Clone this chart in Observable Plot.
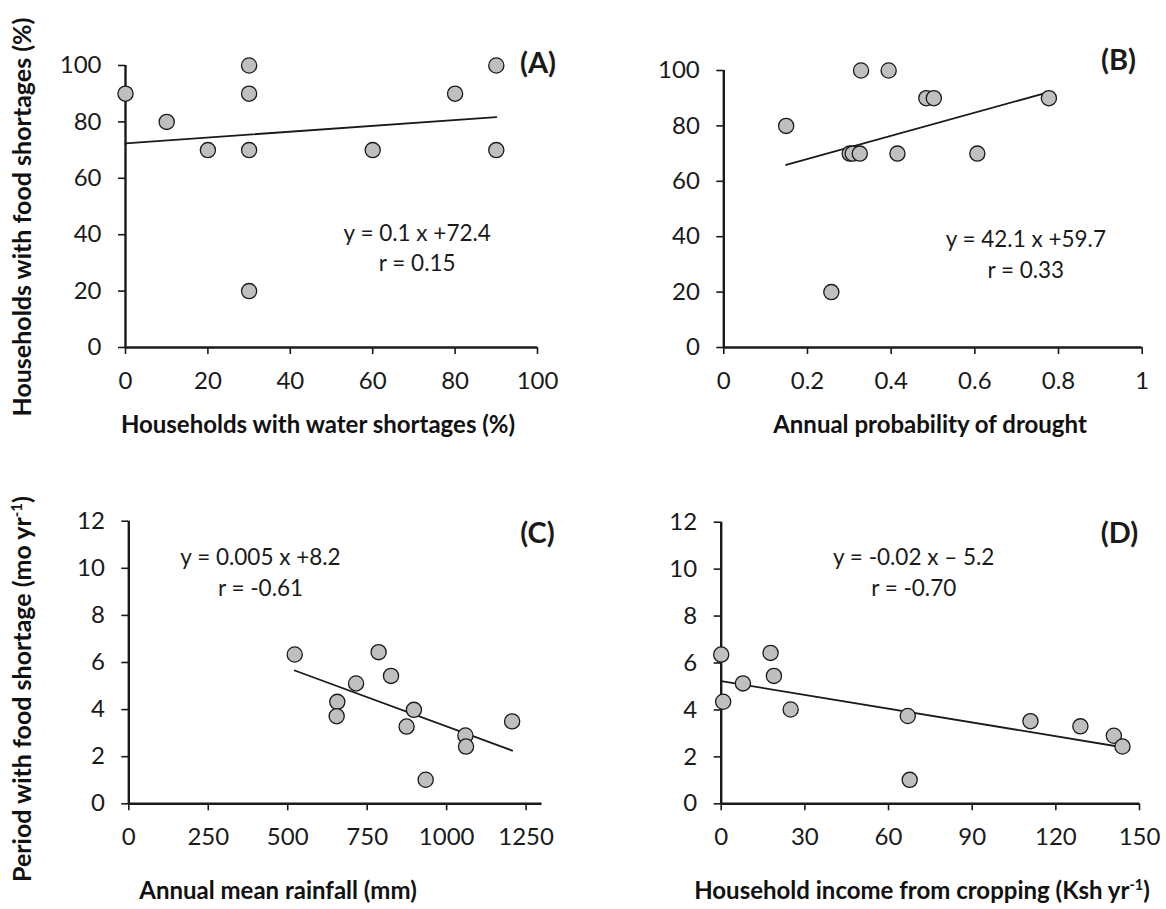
<!DOCTYPE html>
<html><head><meta charset="utf-8">
<script src="https://cdn.jsdelivr.net/npm/d3@7"></script>
<script src="https://cdn.jsdelivr.net/npm/@observablehq/plot@0.6"></script>
<style>
body{margin:0;background:#fff;font-family:Lato,sans-serif;}
#root{position:relative;width:1166px;height:909px;overflow:hidden;background:#fff;}
.p{position:absolute;}
.xt,.yt{position:absolute;font-weight:700;white-space:nowrap;color:#111;line-height:1;}
.xt{transform:translate(-50%,-50%);font-size:24px;}
.yt{transform:translate(-50%,-50%) rotate(-90deg);font-size:25px;}
sup{font-size:0.6em;line-height:0;vertical-align:0.6em;}
</style></head>
<body><div id="root"></div>
<script>
// ---- data ----
const waterShortage = [0, 10, 20, 30, 30, 30, 30, 60, 80, 90, 90];
const foodShortageA = [90, 80, 70, 100, 90, 70, 20, 70, 90, 100, 70];
const trendAx = [0, 90];
const trendAy = [72.4, 81.7];

const droughtProb = [0.149, 0.328, 0.394, 0.484, 0.502, 0.777, 0.301, 0.308, 0.325, 0.415, 0.606, 0.257];
const foodShortageB = [80, 100, 100, 90, 90, 90, 70, 70, 70, 70, 70, 20];
const trendBx = [0.149, 0.777];
const trendBy = [65.9, 92.2];

const rainfall = [522, 656, 654, 715, 786, 825, 897, 874, 1059, 1061, 934, 1206];
const periodC = [6.34, 4.33, 3.72, 5.11, 6.44, 5.43, 3.99, 3.28, 2.90, 2.43, 1.02, 3.50];
const trendCx = [522, 1206];
const trendCy = [5.66, 2.26];

const cropIncome = [0, 0.7, 7.8, 17.7, 18.9, 24.9, 66.9, 67.6, 110.9, 128.8, 140.8, 143.9];
const periodD = [6.36, 4.35, 5.13, 6.43, 5.45, 4.02, 3.74, 1.02, 3.52, 3.30, 2.90, 2.44];
const trendDx = [0, 143.9];
const trendDy = [5.23, 2.41];

const ticksPct = [0, 20, 40, 60, 80, 100];
const ticksProb = [0, 0.2, 0.4, 0.6, 0.8, 1];
const ticksRain = [0, 250, 500, 750, 1000, 1250];
const ticksIncome = [0, 30, 60, 90, 120, 150];
const ticksMonths = [0, 2, 4, 6, 8, 10, 12];

const eqA = ["y = 0.1 x +72.4", "r = 0.15"];
const eqB = ["y = 42.1 x +59.7", "r = 0.33"];
const eqC = ["y = 0.005 x +8.2", "r = -0.61"];
const eqD = ["y = -0.02 x \u2013 5.2", "r = -0.70"];
const letters = ["(A)", "(B)", "(C)", "(D)"];

const yTitleTop = "Households with food shortages (%)";
const yTitleBottom = "Period with food shortage (mo yr<sup>-1</sup>)";
const xTitles = ["Households with water shortages (%)", "Annual probability of drought",
  "Annual mean rainfall (mm)", "Household income from cropping (Ksh yr<sup>-1</sup>)"];

// ---- drawing ----
const root = document.getElementById("root");
const INK = "#1a1a1a";

function panel(o) {
  const [x0, x1, yT, yB] = o.frame;
  const [sx, sy, W, H] = o.box;
  const pts = o.xs.map((x, i) => ({x, y: o.ys[i]}));
  const trend = o.tx.map((x, i) => ({x, y: o.ty[i]}));
  const txt = {frameAnchor: "top-left", text: d => d, fill: INK, lineAnchor: "middle", textAnchor: "middle"};
  const chart = Plot.plot({
    width: W, height: H,
    marginLeft: x0 - sx, marginRight: sx + W - x1,
    marginTop: yT - sy, marginBottom: sy + H - yB,
    style: {fontFamily: "Lato, sans-serif", fontSize: "24px", color: INK, background: "transparent", overflow: "visible"},
    x: {domain: o.xDomain},
    y: {domain: o.yDomain},
    marks: [
      Plot.axisX({ticks: o.xTicks, tickSize: 7, tickPadding: 17, tickFormat: d => String(d), strokeWidth: 1.6, label: null, fontSize: 24}),
      Plot.axisY({ticks: o.yTicks, tickSize: 7, tickPadding: 17, tickFormat: d => String(d), strokeWidth: 1.6, label: null, fontSize: 24}),
      Plot.ruleY([o.yDomain[0]], {stroke: INK, strokeWidth: 2.4}),
      Plot.ruleX([o.xDomain[0]], {stroke: INK, strokeWidth: 2.4}),
      Plot.line(trend, {x: "x", y: "y", stroke: INK, strokeWidth: 1.8}),
      Plot.dot(pts, {x: "x", y: "y", r: 7.6, fill: "#bfbfbf", stroke: INK, strokeWidth: 1.3}),
      Plot.text([o.eq[0]], {...txt, dx: o.eqPos[0], dy: o.eqPos[1], fontSize: 22.5}),
      Plot.text([o.eq[1]], {...txt, dx: o.eqPos[0], dy: o.eqPos[2], fontSize: 22.5}),
      Plot.text([o.letter], {...txt, dx: o.letPos[0], dy: o.letPos[1], fontSize: 29, fontWeight: "bold"})
    ]
  });
  chart.classList.add("p");
  chart.style.left = sx + "px";
  chart.style.top = sy + "px";
  root.appendChild(chart);
}

panel({xs: waterShortage, ys: foodShortageA, tx: trendAx, ty: trendAy,
  xDomain: [0, 100], yDomain: [0, 100], xTicks: ticksPct, yTicks: ticksPct,
  frame: [125, 537, 65, 347], box: [30, 30, 570, 380],
  eq: eqA, eqPos: [291.7, 168, 198], letter: letters[0], letPos: [412.5, -2]});

panel({xs: droughtProb, ys: foodShortageB, tx: trendBx, ty: trendBy,
  xDomain: [0, 1], yDomain: [0, 100], xTicks: ticksProb, yTicks: ticksPct,
  frame: [723.3, 1141.7, 70, 347], box: [610, 30, 556, 380],
  eq: eqB, eqPos: [302, 169, 200], letter: letters[1], letPos: [394.7, -10]});

panel({xs: rainfall, ys: periodC, tx: trendCx, ty: trendCy,
  xDomain: [0, 1300], yDomain: [0, 12], xTicks: ticksRain, yTicks: ticksMonths,
  frame: [128.3, 541.5, 520.7, 803.3], box: [30, 490, 570, 380],
  eq: eqC, eqPos: [131.7, 37, 67.3], letter: letters[2], letPos: [408.7, 12.3]});

panel({xs: cropIncome, ys: periodD, tx: trendDx, ty: trendDy,
  xDomain: [0, 150], yDomain: [0, 12], xTicks: ticksIncome, yTicks: ticksMonths,
  frame: [720.7, 1139, 521.7, 803.3], box: [610, 490, 556, 380],
  eq: eqD, eqPos: [192.5, 36, 66.3], letter: letters[3], letPos: [398.3, 11.3]});

function label(cls, html, x, y) {
  const d = document.createElement("div");
  d.className = cls;
  d.innerHTML = html;
  d.style.left = x + "px";
  d.style.top = y + "px";
  root.appendChild(d);
}
label("yt", yTitleTop, 21, 217);
label("yt", yTitleBottom, 21, 689);
label("xt", xTitles[0], 318, 424);
label("xt", xTitles[1], 930, 424);
label("xt", xTitles[2], 278, 890);
label("xt", xTitles[3], 922, 890);
</script>
</body></html>
